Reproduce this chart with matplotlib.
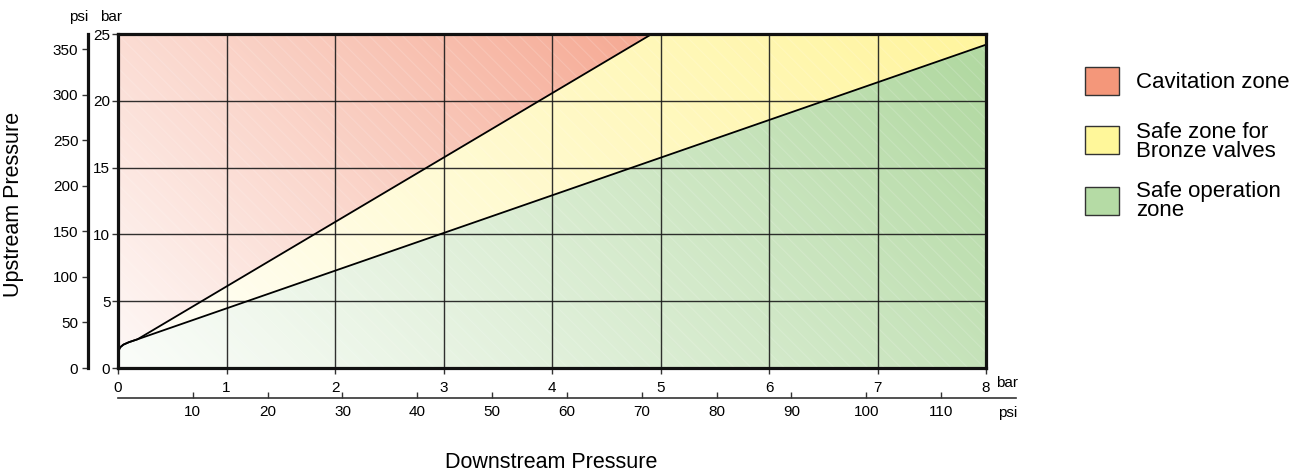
import numpy as np
import matplotlib
matplotlib.use("Agg")
import matplotlib.pyplot as plt
from matplotlib.patches import Polygon, Rectangle

plt.rcParams['font.family'] = ['Liberation Sans', 'DejaVu Sans']
plt.rcParams['hatch.linewidth'] = 0.8

# ---- data ----
bar_x_ticks = [0, 1, 2, 3, 4, 5, 6, 7, 8]
bar_y_ticks = [0, 5, 10, 15, 20, 25]
psi_y_ticks = [0, 50, 100, 150, 200, 250, 300, 350]
psi_x_ticks = [10, 20, 30, 40, 50, 60, 70, 80, 90, 100, 110]
curve_x = [0.0, 0.02, 0.05, 0.10, 0.18]
curve_y = [1.2, 1.55, 1.75, 1.93, 2.15]
cavitation_end = (4.92, 25.0)
bronze_end = (8.0, 24.2)
legend_labels = ["Cavitation zone", "Safe zone for\nBronze valves", "Safe operation\nzone"]
zone_colors = [(242, 138, 108), (255, 245, 160), (178, 217, 162)]
legend_colors = ["#F4977A", "#FFF79A", "#B5DBA5"]

W, H = 1305, 473
fig = plt.figure(figsize=(W / 100, H / 100), dpi=100)

def fx(px):
    return px / W

def fy(py):
    return 1 - py / H

ax = fig.add_axes([fx(118), fy(368), fx(986) - fx(118), fy(34) - fy(368)])
ax.set_xlim(0, 8)
ax.set_ylim(0, 25)

# polygons
red_poly = [(0, 25), cavitation_end] + list(zip(curve_x[::-1], curve_y[::-1]))
yellow_poly = [(curve_x[-1], curve_y[-1]), cavitation_end, (8, 25), bronze_end]
green_poly = [(0, 0)] + list(zip(curve_x, curve_y)) + [bronze_end, (8, 0)]

nx, ny = 900, 350
gx = np.linspace(0, 1, nx)
gy = np.linspace(0, 1, ny)
U, V = np.meshgrid(gx, gy)
t = (U * 868 + V * 334) / 1202
alpha = np.clip(0.06 + 0.98 * t ** 1.1, 0, 1)

for poly, col in zip([red_poly, yellow_poly, green_poly], zone_colors):
    c = np.array(col) / 255.0
    img = np.ones((ny, nx, 3))
    for k in range(3):
        img[..., k] = 1 - alpha * (1 - c[k])
    im = ax.imshow(img, extent=[0, 8, 0, 25], origin='lower', aspect='auto',
                   interpolation='bilinear', zorder=1)
    patch = Polygon(poly, closed=True, facecolor='none', edgecolor='none',
                    transform=ax.transData)
    ax.add_patch(patch)
    im.set_clip_path(patch)

# faint hatch
ax.add_patch(Rectangle((0, 0), 8, 25, facecolor='none', edgecolor=(1, 1, 1, 0.16),
                       linewidth=0, hatch='\\\\', zorder=2))

# grid
for xv in bar_x_ticks[1:-1]:
    ax.axvline(xv, color='#1a1a1a', lw=1.0, alpha=0.9, zorder=3)
for yv in bar_y_ticks[1:-1]:
    ax.axhline(yv, color='#1a1a1a', lw=1.0, alpha=0.9, zorder=3)

# boundary lines
ax.plot(curve_x + [cavitation_end[0]], curve_y + [cavitation_end[1]],
        color='black', lw=1.3, zorder=4, solid_capstyle='butt')
ax.plot(curve_x + [bronze_end[0]], curve_y + [bronze_end[1]],
        color='black', lw=1.3, zorder=4, solid_capstyle='butt')

for s in ax.spines.values():
    s.set_linewidth(2.3)
    s.set_color('#111111')
    s.set_zorder(5)

ax.set_xticks(bar_x_ticks)
ax.set_xticklabels([str(v) for v in bar_x_ticks])
ax.set_yticks(bar_y_ticks)
ax.set_yticklabels([str(v) for v in bar_y_ticks])
ax.tick_params(axis='both', direction='out', length=4, width=1, labelsize=11,
               color='#333333')
ax.tick_params(axis='x', pad=5)
ax.tick_params(axis='y', pad=1.5)

# left psi axis
ax2 = fig.add_axes([fx(88), fy(368), 0.0001, fy(34) - fy(368)])
ax2.set_ylim(0, 366.6)
ax2.set_xticks([])
for k in ['top', 'right', 'bottom']:
    ax2.spines[k].set_visible(False)
ax2.spines['left'].set_linewidth(2.3)
ax2.spines['left'].set_color('#111111')
ax2.set_yticks(psi_y_ticks)
ax2.set_yticklabels([str(v) for v in psi_y_ticks])
ax2.tick_params(axis='y', direction='out', length=4, width=1, labelsize=11,
                pad=3, color='#333333')
ax2.patch.set_visible(False)

# bottom psi axis
ax3 = fig.add_axes([fx(118), fy(398), fx(1016) - fx(118), 0.0001])
ax3.set_xlim(0, 120.0)
ax3.set_yticks([])
for k in ['top', 'right', 'left']:
    ax3.spines[k].set_visible(False)
ax3.spines['bottom'].set_linewidth(1.2)
ax3.spines['bottom'].set_color('#333333')
ax3.set_xticks(psi_x_ticks)
ax3.set_xticklabels([str(v) for v in psi_x_ticks])
ax3.tick_params(axis='x', direction='in', length=4, width=1, labelsize=11,
                pad=5, color='#333333')
ax3.patch.set_visible(False)

# unit labels
fig.text(fx(79), fy(17), 'psi', ha='center', va='center', fontsize=11)
fig.text(fx(111), fy(17), 'bar', ha='center', va='center', fontsize=11)
fig.text(fx(996), fy(383), 'bar', ha='left', va='center', fontsize=11)
fig.text(fx(998), fy(413), 'psi', ha='left', va='center', fontsize=11)

# axis titles
fig.text(fx(14), fy(204), 'Upstream Pressure', rotation=90, ha='center',
         va='center', fontsize=15.5)
fig.text(fx(551), fy(462), 'Downstream Pressure', ha='center', va='center',
         fontsize=15.5)

# legend
box_y = [67, 126, 187]
text_y = [82, 142, 201]
for lab, col, by, ty in zip(legend_labels, legend_colors, box_y, text_y):
    fig.patches.append(Rectangle((fx(1085), fy(by + 28)), fx(34), 28 / H,
                                 facecolor=col, edgecolor='#333333', lw=1.0,
                                 transform=fig.transFigure, figure=fig))
    fig.text(fx(1136), fy(ty), lab, ha='left', va='center', fontsize=16,
             linespacing=0.9)

fig.savefig('out.png', dpi=100)
